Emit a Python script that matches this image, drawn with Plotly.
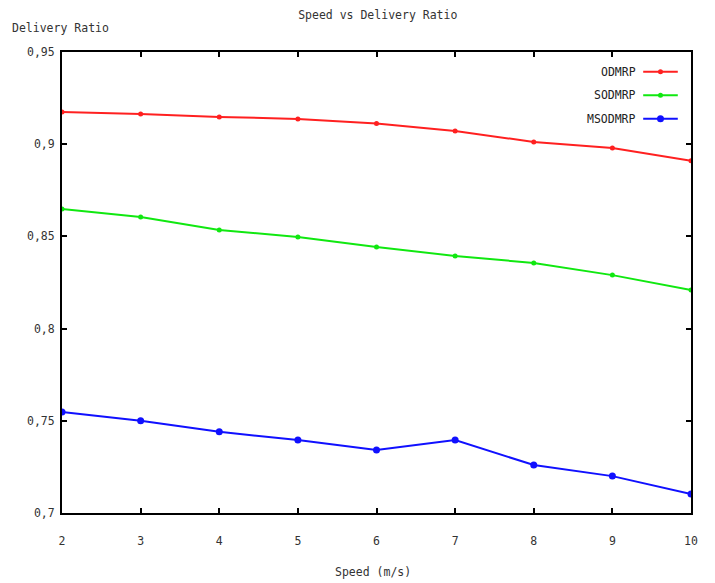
import plotly.graph_objects as go

speed = [2, 3, 4, 5, 6, 7, 8, 9, 10]
odmrp = [0.9175, 0.9164, 0.9148, 0.9137, 0.9112, 0.9072, 0.9012, 0.8980, 0.8910]
sodmrp = [0.8649, 0.8605, 0.8535, 0.8497, 0.8443, 0.8394, 0.8356, 0.8290, 0.8209]
msodmrp = [0.7548, 0.7500, 0.7440, 0.7396, 0.7342, 0.7396, 0.7260, 0.7200, 0.7103]

series_names = ["ODMRP", "SODMRP", "MSODMRP"]
series_values = [odmrp, sodmrp, msodmrp]
colors = ["#ff2020", "#10e810", "#1010ff"]
marker_sizes = [5, 5, 7]

y_tickvals = [0.7, 0.75, 0.8, 0.85, 0.9, 0.95]
y_ticktext = ["0,7", "0,75", "0,8", "0,85", "0,9", "0,95"]
x_tickvals = speed
x_ticktext = [str(v) for v in speed]

font_family = "DejaVu Sans Mono"
text_color = "#333333"
fs = 11.5

fig = go.Figure()
for name, vals, col, ms in zip(series_names, series_values, colors, marker_sizes):
    fig.add_trace(go.Scatter(
        x=speed, y=vals, name=name, mode="lines+markers",
        line=dict(color=col, width=2),
        marker=dict(color=col, size=ms, symbol="circle"),
        showlegend=False,
    ))

# Manual legend (text left of sample line, like the original)
leg_y = [0.957, 0.906, 0.855]
for name, col, ly, ms in zip(series_names, colors, leg_y, marker_sizes):
    fig.add_annotation(x=0.915, y=ly, xref="paper", yref="paper", text=name,
                       showarrow=False, xanchor="right", yanchor="middle",
                       font=dict(family=font_family, size=fs, color="#222222"))
    fig.add_shape(type="line", xref="paper", yref="paper",
                  x0=0.924, x1=0.979, y0=ly, y1=ly,
                  line=dict(color=col, width=2))
    fig.add_trace(go.Scatter(
        x=[0.9515], y=[ly], xaxis="x2", yaxis="y2", mode="markers",
        marker=dict(color=col, size=ms), showlegend=False, hoverinfo="skip"))

axis_common = dict(showline=True, linecolor="black", linewidth=2, mirror="allticks",
                   ticks="inside", ticklen=5, tickcolor="black", tickwidth=1.5,
                   showgrid=False, zeroline=False,
                   tickfont=dict(family=font_family, size=fs, color=text_color))

# page body adds an 8px offset, so the figure is sized to compensate
fig.update_layout(
    width=707, height=575,
    margin=dict(l=54, r=24, t=44, b=70),
    paper_bgcolor="white", plot_bgcolor="white",
    title=dict(text="Speed vs Delivery Ratio", x=0.523, xanchor="center",
               y=0.988, yanchor="middle",
               font=dict(family=font_family, size=fs, color=text_color)),
    xaxis=dict(range=[2, 10], tickvals=x_tickvals, ticktext=x_ticktext,
               ticklabelstandoff=16, **axis_common),
    yaxis=dict(range=[0.7, 0.95], tickvals=y_tickvals, ticktext=y_ticktext,
               ticklabelstandoff=3, **axis_common),
    xaxis2=dict(range=[0, 1], overlaying="x", visible=False),
    yaxis2=dict(range=[0, 1], overlaying="y", visible=False),
    showlegend=False,
)

fig.add_annotation(x=-0.083, y=1.052, xref="paper", yref="paper", text="Delivery Ratio",
                   showarrow=False, xanchor="left", yanchor="middle",
                   font=dict(family=font_family, size=fs, color=text_color))
fig.add_annotation(x=0.495, y=-0.128, xref="paper", yref="paper", text="Speed (m/s)",
                   showarrow=False, xanchor="center", yanchor="middle",
                   font=dict(family=font_family, size=fs, color=text_color))

fig.write_html("out.html")
